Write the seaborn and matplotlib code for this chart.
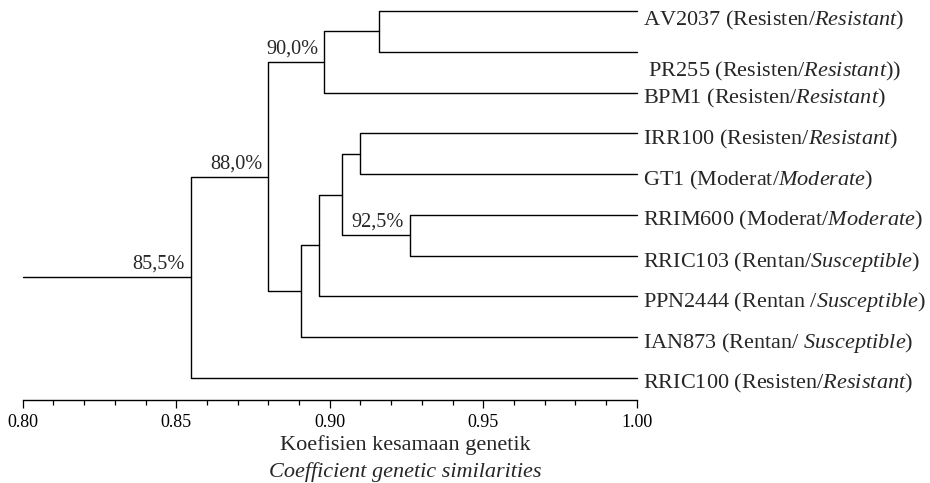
import matplotlib
matplotlib.use("Agg")
import matplotlib.pyplot as plt
import numpy as np
import pandas as pd
import seaborn as sns

# Data: leaves (top to bottom) and the merges of the dendrogram
leaf_names = ["AV2037", "PR255", "BPM1", "IRR100", "GT1",
              "RRIM600", "RRIC103", "PPN2444", "IAN873", "RRIC100"]
leaf_local = ["Resisten/", "Resisten/", "Resisten/", "Resisten/", "Moderat/",
              "Moderat/", "Rentan/", "Rentan /", "Rentan/ ", "Resisten/"]
leaf_english = ["Resistant", "Resistant", "Resistant", "Resistant", "Moderate",
                "Moderate", "Susceptible", "Susceptible", "Susceptible", "Resistant"]
leaf_tail = [")", "))", ")", ")", ")", ")", ")", ")", ")", ")"]

# (left child, right child, similarity, label)
merge_left = ["AV2037", "c1", "IRR100", "RRIM600", "c3", "c5", "c6", "c2", "c8"]
merge_right = ["PR255", "BPM1", "GT1", "RRIC103", "c4", "PPN2444", "IAN873", "c7", "RRIC100"]
merge_sim = [0.916, 0.898, 0.910, 0.926, 0.904, 0.8966, 0.8907, 0.880, 0.8547]
merge_label = ["", "90,0%", "", "92,5%", "", "", "", "88,0%", "85,5%"]

x_start = 0.80
x_end = 1.00


def main():
    sns.set_style("white")
    plt.rcParams["font.family"] = ["Liberation Serif", "DejaVu Serif"]
    plt.rcParams["mathtext.fontset"] = "custom"
    plt.rcParams["mathtext.rm"] = "Liberation Serif"
    plt.rcParams["mathtext.it"] = "Liberation Serif:italic"

    fig = plt.figure(figsize=(9.3, 4.83), dpi=100)
    ax = fig.add_axes([22.7 / 930, 83 / 483, 614 / 930, 400 / 483])

    # node coordinates
    pos = {name: (x_end, i) for i, name in enumerate(leaf_names)}
    rows = []
    seg = 0
    for k, (a, b, s) in enumerate(zip(merge_left, merge_right, merge_sim)):
        xa, ya = pos[a]
        xb, yb = pos[b]
        rows += [(seg, xa, ya), (seg, s, ya), (seg, s, yb), (seg, xb, yb)]
        seg += 1
        pos[f"c{k + 1}"] = (s, (ya + yb) / 2)
    root_x, root_y = pos[f"c{len(merge_sim)}"]
    rows += [(seg, x_start, root_y), (seg, root_x, root_y)]
    df = pd.DataFrame(rows, columns=["seg", "x", "y"])

    sns.lineplot(data=df, x="x", y="y", units="seg", estimator=None, sort=False,
                 color="black", lw=1.0, ax=ax, legend=False)
    for line in ax.lines:
        line.set_clip_on(False)

    # node labels
    for k, lab in enumerate(merge_label):
        if lab:
            nx, ny = pos[f"c{k + 1}"]
            ax.annotate(lab, (nx, ny), xytext=(-4, 6), textcoords="offset points",
                        ha="right", va="baseline", fontsize=14.6)

    # leaf labels
    nudge = {"AV2037": -2.5, "PR255": -10}
    for i, name in enumerate(leaf_names):
        lab = f"{name} ({leaf_local[i]}$\\mathit{{{leaf_english[i]}}}${leaf_tail[i]}"
        if name == "PR255":
            lab = " " + lab
        ax.annotate(lab, (x_end, i), xytext=(4.5, -4.3 + nudge.get(name, 0)),
                    textcoords="offset points", ha="left", va="center",
                    fontsize=16, annotation_clip=False)

    ax.set_xlim(x_start, x_end)
    ax.set_ylim(9 + 22 / 40.78, -11 / 40.78)
    ax.set_xticks(np.arange(0.80, 1.001, 0.05))
    ax.set_xticklabels([f"{v:.2f}" for v in np.arange(0.80, 1.001, 0.05)])
    ax.set_xticks(np.arange(0.80, 1.001, 0.01), minor=True)
    ax.tick_params(axis="x", which="major", direction="out", length=6, width=0.9,
                   colors="black", labelsize=13, pad=4, bottom=True)
    ax.tick_params(axis="x", which="minor", direction="out", length=3.6, width=0.9,
                   colors="black", bottom=True)
    ax.set_yticks([])
    ax.set_xlabel("")
    ax.set_ylabel("")
    sns.despine(ax=ax, left=True)
    ax.spines["bottom"].set_color("black")
    ax.spines["bottom"].set_linewidth(1.0)

    fig.text(405 / 930, 1 - 445 / 483, "Koefisien kesamaan genetik",
             ha="center", va="center", fontsize=16)
    fig.text(405 / 930, 1 - 472 / 483, "Coefficient genetic similarities",
             ha="center", va="center", fontsize=16, style="italic")

    fig.savefig("out.png", dpi=100)
    plt.close(fig)


if __name__ == "__main__":
    main()
